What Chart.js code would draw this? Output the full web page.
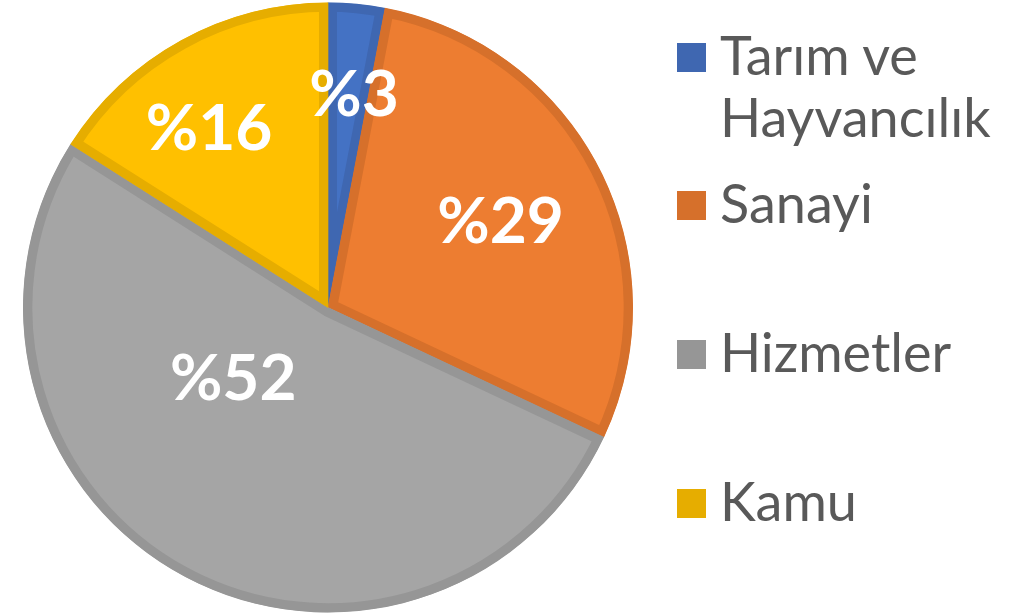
<!DOCTYPE html>
<html lang="tr">
<head>
  <meta charset="UTF-8">
  <title>Sektörlere göre dağılım</title>
  <script src="https://cdn.jsdelivr.net/npm/chart.js"></script>
  <style>
    html, body {
      margin: 0;
      padding: 0;
      width: 1031px;
      height: 615px;
      overflow: hidden;
      background: #fff;
    }
    #pieBox {
      position: absolute;
      left: 0;
      top: -3px;
      width: 656px;
      height: 621px;
    }
    #legend {
      position: absolute;
      left: 677px;
      top: 0;
      width: 354px;
      font-family: Lato, sans-serif;
      font-size: 54px;
      line-height: 62px;
      color: #595959;
    }
    .item {
      position: absolute;
      left: 0;
      width: 310px;
    }
    .item .box {
      position: absolute;
      left: 0;
      top: 19px;
      width: 29px;
      height: 29px;
    }
    .item .txt {
      margin-left: 43px;
    }
  </style>
</head>
<body>
  <div id="pieBox"><canvas id="pie"></canvas></div>
  <div id="legend"></div>

  <script>
    // veriler
    const categories = ['Tarım ve Hayvancılık', 'Sanayi', 'Hizmetler', 'Kamu'];
    const shares = [3, 29, 52, 16];
    const valueLabels = ['%3', '%29', '%52', '%16'];

    const fillColors = ['#4472C4', '#ED7D31', '#A5A5A5', '#FFC000'];
    const edgeColors = ['#3F67B1', '#D6702B', '#969696', '#E6AD00'];

    // etiket konumu: yarıçap oranı ve açı kayması (derece)
    const labelSpots = [
      { r: 0.71, shift: 1.5 },
      { r: 0.635, shift: 0 },
      { r: 0.385, shift: 25 },
      { r: 0.71, shift: -4.5 }
    ];

    // dilim içi yüzdelik etiketleri
    const sliceLabels = {
      id: 'sliceLabels',
      afterDatasetsDraw(chart) {
        const ctx = chart.ctx;
        const meta = chart.getDatasetMeta(0);
        ctx.save();
        ctx.fillStyle = '#fff';
        ctx.font = 'bold 64px Lato, sans-serif';
        ctx.textAlign = 'center';
        ctx.textBaseline = 'alphabetic';
        meta.data.forEach((arc, i) => {
          const p = arc.getProps(['x', 'y', 'startAngle', 'endAngle', 'outerRadius'], true);
          const a = (p.startAngle + p.endAngle) / 2 + labelSpots[i].shift * Math.PI / 180;
          const rr = p.outerRadius * labelSpots[i].r;
          const x = p.x + Math.cos(a) * rr;
          const y = p.y + Math.sin(a) * rr;
          ctx.fillText(valueLabels[i], x, y + 23);
        });
        ctx.restore();
      }
    };

    new Chart(document.getElementById('pie'), {
      type: 'pie',
      data: {
        labels: categories,
        datasets: [{
          data: shares,
          backgroundColor: fillColors,
          borderColor: edgeColors,
          borderWidth: 9,
          borderAlign: 'inner'
        }]
      },
      options: {
        responsive: true,
        maintainAspectRatio: false,
        animation: false,
        layout: { padding: { left: 23, right: 23, top: 0, bottom: 0 } },
        plugins: {
          legend: { display: false },
          tooltip: { enabled: false }
        }
      },
      plugins: [sliceLabels]
    });

    // sağdaki açıklama kutusu
    const legendTops = [24, 172, 321, 470];
    const legend = document.getElementById('legend');
    categories.forEach((name, i) => {
      const item = document.createElement('div');
      item.className = 'item';
      item.style.top = legendTops[i] + 'px';
      item.innerHTML = '<div class="box" style="background:' + edgeColors[i] + '"></div>' +
        '<div class="txt">' + name + '</div>';
      legend.appendChild(item);
    });
  </script>
</body>
</html>
